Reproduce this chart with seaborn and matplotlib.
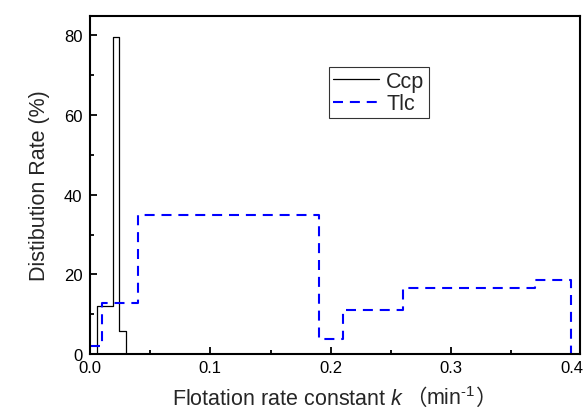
import matplotlib
matplotlib.use('Agg')
import pandas as pd
import matplotlib.pyplot as plt
import seaborn as sns
from matplotlib.ticker import MultipleLocator
from matplotlib.offsetbox import TextArea, HPacker, AnchoredOffsetbox

# step edges (k, 1/min) and distribution rate (%)
ccp_k = [0.0, 0.0057, 0.019, 0.024, 0.030]
ccp_rate = [0.0, 12.0, 79.6, 5.8, 0.0]

tlc_k = [0.0, 0.010, 0.040, 0.190, 0.210, 0.260, 0.370, 0.400]
tlc_rate = [2.0, 12.7, 35.0, 3.8, 11.0, 16.5, 18.5, 0.0]

x_ticks = [0.0, 0.1, 0.2, 0.3, 0.4]
y_ticks = [0, 20, 40, 60, 80]

sns.set_style('ticks')
plt.rcParams['font.family'] = ['Liberation Sans', 'Noto Sans CJK SC']
plt.rcParams['mathtext.fontset'] = 'custom'
plt.rcParams['mathtext.rm'] = 'Liberation Sans'
plt.rcParams['mathtext.it'] = 'Liberation Sans:italic'

ccp = pd.DataFrame({'k': ccp_k, 'rate': ccp_rate})
tlc = pd.DataFrame({'k': tlc_k, 'rate': tlc_rate})

fig = plt.figure(figsize=(5.84, 4.14), dpi=100)
ax = fig.add_axes([0.154, 0.1425, 0.839, 0.8175])

sns.lineplot(data=ccp, x='k', y='rate', ax=ax, color='black', linewidth=0.9,
             drawstyle='steps-post', estimator=None, sort=False, label='Ccp')
sns.lineplot(data=tlc, x='k', y='rate', ax=ax, color='#0000FF', linewidth=1.5,
             drawstyle='steps-post', estimator=None, sort=False, label='Tlc',
             dashes=False)
ax.lines[1].set_dashes([4.8, 3.3])

ax.set_xlim(0, 0.407)
ax.set_ylim(0, 85)
ax.set_xticks(x_ticks)
ax.set_xticklabels(['%.1f' % v for v in x_ticks])
ax.set_yticks(y_ticks)
ax.xaxis.set_minor_locator(MultipleLocator(0.05))
ax.yaxis.set_minor_locator(MultipleLocator(10))
ax.tick_params(which='both', direction='in', top=False, right=False, width=1.3,
               labelsize=12, colors='black')
ax.tick_params(which='major', length=5)
ax.tick_params(which='minor', length=3)
ax.tick_params(axis='x', pad=4)
ax.tick_params(axis='y', pad=5.5)
for s in ax.spines.values():
    s.set_linewidth(1.5)
    s.set_color('black')
    s.set_visible(True)

ax.set_xlabel('')
ax.set_ylabel('Distibution Rate (%)', fontsize=15.5, labelpad=10)

# x label pieces: latin text, full-width brackets from the CJK font
fs = 15.5
parts = [
    TextArea('Flotation rate constant $k$', textprops=dict(fontsize=fs)),
    TextArea('（', textprops=dict(fontsize=fs, family='Noto Sans CJK SC')),
    TextArea(r'min$^{\text{-1}}$', textprops=dict(fontsize=fs)),
    TextArea('）', textprops=dict(fontsize=fs, family='Noto Sans CJK SC')),
]
box = HPacker(children=parts, align='baseline', pad=0, sep=0)
xlab = AnchoredOffsetbox(loc='upper center', child=box, pad=0, borderpad=0,
                         bbox_to_anchor=(0.5, -0.095), bbox_transform=ax.transAxes,
                         frameon=False)
ax.add_artist(xlab)

leg = ax.legend(loc='upper left', bbox_to_anchor=(0.488, 0.849), borderaxespad=0,
                fontsize=15.5, frameon=True, fancybox=False, handlelength=2.1,
                handletextpad=0.35, borderpad=0.2, labelspacing=0.05)
leg.get_frame().set_edgecolor('black')
leg.get_frame().set_linewidth(0.8)

fig.savefig('out.png', dpi=100)
